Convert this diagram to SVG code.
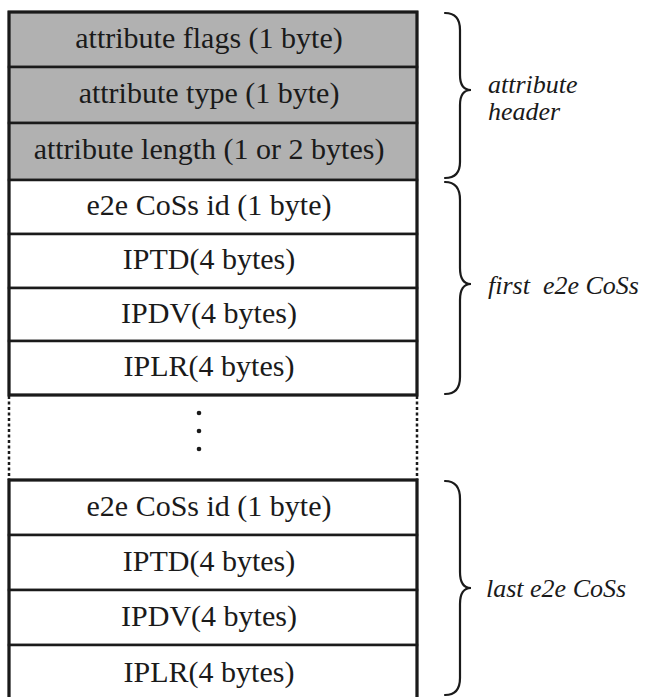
<svg xmlns="http://www.w3.org/2000/svg" width="646" height="697" viewBox="0 0 646 697">
  <style>
    .row { stroke: #1a1a1a; stroke-width: 2.5; }
    .hdr { fill: #b1b1b1; }
    .body { fill: #ffffff; }
    .frame { fill: none; stroke: #1a1a1a; stroke-width: 3; }
    .lbl { font-family: "Liberation Serif", "Times New Roman", serif; font-size: 30px; fill: #1a1a1a; text-anchor: middle; }
    .side { font-family: "Liberation Serif", "Times New Roman", serif; font-size: 26px; font-style: italic; fill: #1a1a1a; }
    .brace { fill: none; stroke: #1a1a1a; stroke-width: 2.2; stroke-linecap: round; }
    .dots { fill: none; stroke: #1a1a1a; stroke-width: 2.5; stroke-dasharray: 3 2.5; }
  </style>
  <rect width="646" height="697" fill="#ffffff"/>

  <!-- attribute header fields -->
  <g id="attr-flags">
    <rect class="hdr row" x="9" y="12" width="408" height="55"/>
    <text class="lbl" x="209" y="48">attribute flags (1 byte)</text>
  </g>
  <g id="attr-type">
    <rect class="hdr row" x="9" y="67" width="408" height="56"/>
    <text class="lbl" x="209" y="103">attribute type (1 byte)</text>
  </g>
  <g id="attr-length">
    <rect class="hdr row" x="9" y="123" width="408" height="57"/>
    <text class="lbl" x="209" y="159">attribute length (1 or 2 bytes)</text>
  </g>

  <!-- first e2e CoSs block -->
  <g id="first-id">
    <rect class="body row" x="9" y="180" width="408" height="54"/>
    <text class="lbl" x="209" y="215">e2e CoSs id (1 byte)</text>
  </g>
  <g id="first-iptd">
    <rect class="body row" x="9" y="234" width="408" height="54"/>
    <text class="lbl" x="209" y="269">IPTD(4 bytes)</text>
  </g>
  <g id="first-ipdv">
    <rect class="body row" x="9" y="288" width="408" height="53"/>
    <text class="lbl" x="209" y="323">IPDV(4 bytes)</text>
  </g>
  <g id="first-iplr">
    <rect class="body row" x="9" y="341" width="408" height="54"/>
    <text class="lbl" x="209" y="376">IPLR(4 bytes)</text>
  </g>

  <!-- elided blocks -->
  <g id="ellipsis">
    <line class="dots" x1="9" y1="396" x2="9" y2="480"/>
    <line class="dots" x1="417" y1="396" x2="417" y2="480"/>
    <circle cx="199" cy="413" r="2.3" fill="#1a1a1a"/>
    <circle cx="199" cy="431" r="2.3" fill="#1a1a1a"/>
    <circle cx="199" cy="449" r="2.3" fill="#1a1a1a"/>
  </g>

  <!-- last e2e CoSs block -->
  <g id="last-id">
    <rect class="body row" x="9" y="480" width="408" height="55"/>
    <text class="lbl" x="209" y="516">e2e CoSs id (1 byte)</text>
  </g>
  <g id="last-iptd">
    <rect class="body row" x="9" y="535" width="408" height="55"/>
    <text class="lbl" x="209" y="571">IPTD(4 bytes)</text>
  </g>
  <g id="last-ipdv">
    <rect class="body row" x="9" y="590" width="408" height="55"/>
    <text class="lbl" x="209" y="626">IPDV(4 bytes)</text>
  </g>
  <g id="last-iplr">
    <rect class="body row" x="9" y="645" width="408" height="60"/>
    <text class="lbl" x="209" y="682">IPLR(4 bytes)</text>
  </g>

  <!-- outer frame edges -->
  <g id="frame">
    <rect class="frame" x="9" y="12" width="408" height="383"/>
    <rect class="frame" x="9" y="480" width="408" height="225"/>
  </g>

  <!-- braces and their labels -->
  <g id="connectors">
    <path class="brace" d="M445,13 Q460,13 460,30 L460,75 Q460,90 471,90 Q460,90 460,105 L460,162 Q460,178 445,178"/>
    <path class="brace" d="M445,182 Q460,182 460,200 L460,268 Q460,284 471,284 Q460,284 460,300 L460,377 Q460,394 445,394"/>
    <path class="brace" d="M445,481 Q460,481 460,499 L460,572 Q460,588 471,588 Q460,588 460,604 L460,678 Q460,695 445,695"/>
  </g>
  <g id="labels">
    <text class="side" x="488" y="93">attribute</text>
    <text class="side" x="488" y="120">header</text>
    <text class="side" x="488" y="294" xml:space="preserve">first  e2e CoSs</text>
    <text class="side" x="486" y="597">last e2e CoSs</text>
  </g>
</svg>
